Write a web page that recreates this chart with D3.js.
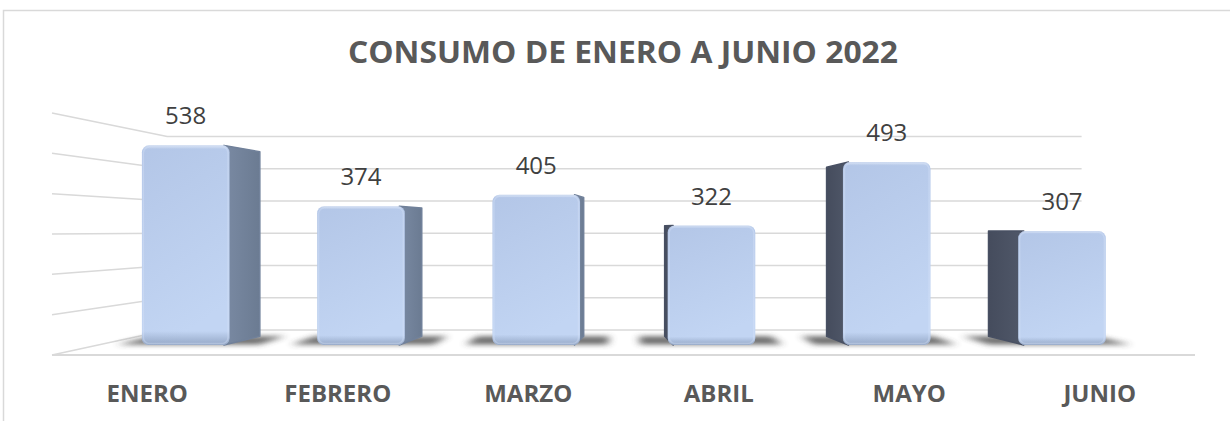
<!DOCTYPE html>
<html><head><meta charset="utf-8">
<script src="https://cdn.jsdelivr.net/npm/d3@7"></script>
<style>body{margin:0;background:#fff} svg{display:block}</style>
</head><body><div id="chart"></div>
<script>
var months = ["ENERO", "FEBRERO", "MARZO", "ABRIL", "MAYO", "JUNIO"];
var consumo = [538, 374, 405, 322, 493, 307];
var yTicks = [0, 100, 200, 300, 400, 500, 600];
var title = "CONSUMO DE ENERO A JUNIO 2022";

var W = 1230, H = 421;
// vanishing point of the fake 3d view
var vx = 628, vy = 230;
var zFront = 0.08, zBack = 0.15, zWall = 0.2;

var svg = d3.select("#chart").append("svg")
  .attr("width", W)
  .attr("height", H);

var x = d3.scaleBand().domain(months).range([52, 1195]).paddingInner(0.5).paddingOuter(0.25);
var y = d3.scaleLinear().domain([0, 600]).range([355, 113]);

function proj(X, Y, z) {
  return [X + (vx - X) * z, Y + (vy - Y) * z];
}

var defs = svg.append("defs");
defs.append("filter").attr("id", "blur").attr("x", "-50%").attr("y", "-200%").attr("width", "200%").attr("height", "500%")
  .append("feGaussianBlur").attr("stdDeviation", "4 2.5");

var fg = defs.append("linearGradient").attr("id", "front").attr("x1", 0).attr("y1", 0).attr("x2", 0.3).attr("y2", 1);
fg.append("stop").attr("offset", "0%").attr("stop-color", "#b3c6e7");
fg.append("stop").attr("offset", "100%").attr("stop-color", "#c2d5f3");

var eg = defs.append("linearGradient").attr("id", "edge").attr("x1", 0).attr("y1", 0).attr("x2", 0).attr("y2", 1);
eg.append("stop").attr("offset", "0%").attr("stop-color", "#ffffff").attr("stop-opacity", 0.35);
eg.append("stop").attr("offset", "2%").attr("stop-color", "#ffffff").attr("stop-opacity", 0);
eg.append("stop").attr("offset", "93%").attr("stop-color", "#8194b3").attr("stop-opacity", 0);
eg.append("stop").attr("offset", "100%").attr("stop-color", "#8194b3").attr("stop-opacity", 0.7);

var rg = defs.append("linearGradient").attr("id", "sideR").attr("x1", 0).attr("y1", 0).attr("x2", 1).attr("y2", 0);
rg.append("stop").attr("offset", "0%").attr("stop-color", "#7a8aa3");
rg.append("stop").attr("offset", "100%").attr("stop-color", "#6b7b92");

var lg = defs.append("linearGradient").attr("id", "sideL").attr("x1", 0).attr("y1", 0).attr("x2", 1).attr("y2", 0);
lg.append("stop").attr("offset", "0%").attr("stop-color", "#454c5d");
lg.append("stop").attr("offset", "100%").attr("stop-color", "#505869");

// chart border
svg.append("rect")
  .attr("x", 3.5).attr("y", 10.5)
  .attr("width", W + 20).attr("height", H + 20)
  .attr("fill", "none").attr("stroke", "#d9d9d9").attr("stroke-width", 1.5);

// walls
var x0 = x.range()[0], x1 = x.range()[1];
var line = d3.line();
svg.append("g").selectAll("path")
  .data(yTicks)
  .join("path")
  .attr("d", t => line([proj(x0, y(t), 0), proj(x0, y(t), zWall), proj(x1, y(t), zWall)]))
  .attr("fill", "none")
  .attr("stroke", "#d9d9d9")
  .attr("stroke-width", 1.5);

svg.append("path")
  .attr("d", line([proj(x0, y(0), 0), proj(x1, y(0), 0)]))
  .attr("stroke", "#d9d9d9")
  .attr("stroke-width", 2);

var bw = x.bandwidth();
var data = months.map((m, i) => ({ m: m, v: consumo[i] }));

// shadows on the floor
svg.append("g").selectAll("path")
  .data(data)
  .join("path")
  .attr("d", function(d) {
    var X0 = x(d.m) - 30, X1 = x(d.m) + bw + 30, Yb = y(0);
    return line([proj(X0, Yb, zFront + 0.005), proj(X1, Yb, zFront + 0.005), proj(X1, Yb, zBack), proj(X0, Yb, zBack)]) + "Z";
  })
  .attr("fill", "#3a3a3a")
  .attr("opacity", 0.75)
  .attr("filter", "url(#blur)");

var bars = svg.append("g").selectAll("g")
  .data(data)
  .join("g");

bars.each(function(d) {
  var g = d3.select(this);
  var X0 = x(d.m), X1 = X0 + bw, Yt = y(d.v), Yb = y(0);
  var side = null, fill = null;
  if (vx > X1) {
    side = [proj(X1 - 6, Yt, zFront), proj(X1, Yt, zBack), proj(X1, Yb, zBack), proj(X1 - 6, Yb, zFront)];
    fill = "url(#sideR)";
  } else if (vx < X0) {
    side = [proj(X0, Yt, zBack), proj(X0 + 6, Yt, zFront), proj(X0 + 6, Yb, zFront), proj(X0, Yb, zBack)];
    fill = "url(#sideL)";
  }
  if (side) {
    g.append("path")
      .attr("d", line(side) + "Z")
      .attr("fill", fill)
      .attr("stroke", vx > X1 ? "#71819a" : "#485063")
      .attr("stroke-width", 1.5)
      .attr("stroke-linejoin", "round");
  }
  var a = proj(X0, Yt, zFront), b = proj(X1, Yb, zFront);
  g.append("rect")
    .attr("x", a[0]).attr("y", a[1])
    .attr("width", b[0] - a[0]).attr("height", b[1] - a[1])
    .attr("rx", 7)
    .attr("fill", "url(#front)");
  g.append("rect")
    .attr("x", a[0]).attr("y", a[1])
    .attr("width", b[0] - a[0]).attr("height", b[1] - a[1])
    .attr("rx", 7)
    .attr("fill", "url(#edge)");
  g.append("rect")
    .attr("x", a[0] + 1.5).attr("y", a[1] + 1.5)
    .attr("width", b[0] - a[0] - 3).attr("height", b[1] - a[1] - 3)
    .attr("rx", 6)
    .attr("fill", "none")
    .attr("stroke", "#dbe6f8")
    .attr("stroke-opacity", 0.35)
    .attr("stroke-width", 1.5);

  g.append("text")
    .attr("x", (a[0] + b[0]) / 2)
    .attr("y", a[1] - 21)
    .attr("text-anchor", "middle")
    .style("font-family", "'Open Sans', sans-serif")
    .style("font-size", "24px")
    .attr("fill", "#404040")
    .text(d.v);
});

// category labels
svg.append("g").selectAll("text")
  .data(months)
  .join("text")
  .attr("x", m => x(m) + bw / 2)
  .attr("y", 402)
  .attr("text-anchor", "middle")
  .style("font-family", "'Open Sans', sans-serif")
  .style("font-size", "24px")
  .style("font-weight", "bold")
  .attr("fill", "#595959")
  .text(m => m);

svg.append("text")
  .attr("x", 623)
  .attr("y", 63)
  .attr("text-anchor", "middle")
  .attr("textLength", 550)
  .attr("lengthAdjust", "spacingAndGlyphs")
  .style("font-family", "'Open Sans', sans-serif")
  .style("font-size", "30px")
  .style("font-weight", "bold")
  .attr("fill", "#595959")
  .text(title);
</script>
</body></html>
